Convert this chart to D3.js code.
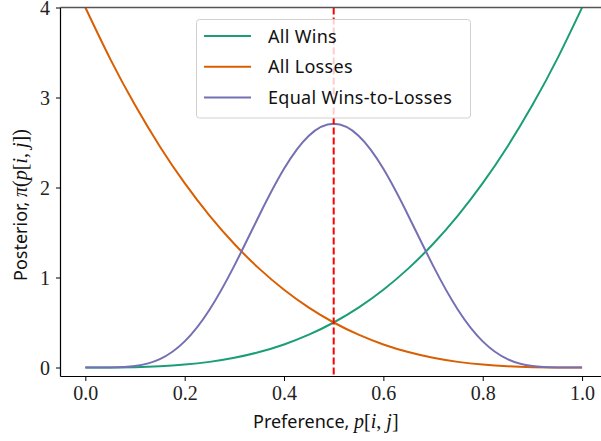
<!DOCTYPE html>
<html>
<head>
<meta charset="utf-8">
<script src="https://cdn.jsdelivr.net/npm/d3@7"></script>
<style>
  html, body { margin: 0; padding: 0; background: #fff; }
  svg { display: block; }
  .tick text { font-family: "Liberation Serif", "DejaVu Serif", serif; }
</style>
</head>
<body>
<svg id="chart" width="601" height="441"></svg>
<script>
// Preference grid p[i,j]
const prefs = [0, 0.05, 0.1, 0.15, 0.2, 0.25, 0.3, 0.35, 0.4, 0.45, 0.5,
               0.55, 0.6, 0.65, 0.7, 0.75, 0.8, 0.85, 0.9, 0.95, 1.0];

// Posterior densities for each scenario
const allWins = [0, 0.0005, 0.004, 0.0135, 0.032, 0.0625, 0.108, 0.1715, 0.256, 0.3645, 0.5,
                 0.6655, 0.864, 1.0985, 1.372, 1.6875, 2.048, 2.4565, 2.916, 3.4295, 4.0];
const allLosses = [4.0, 3.4295, 2.916, 2.4565, 2.048, 1.6875, 1.372, 1.0985, 0.864, 0.6655, 0.5,
                   0.3645, 0.256, 0.1715, 0.108, 0.0625, 0.032, 0.0135, 0.004, 0.0005, 0];
const equalWL = [0, 0.0007, 0.0164, 0.0934, 0.2907, 0.6424, 1.1321, 1.6893, 2.2072, 2.5744, 2.7070,
                 2.5744, 2.2072, 1.6893, 1.1321, 0.6424, 0.2907, 0.0934, 0.0164, 0.0007, 0];

const seriesNames = ["All Wins", "All Losses", "Equal Wins-to-Losses"];
const seriesColors = ["#1b9e77", "#d95f02", "#7570b3"];
const seriesValues = [allWins, allLosses, equalWL];

const xTicks = [0.0, 0.2, 0.4, 0.6, 0.8, 1.0];
const yTicks = [0, 1, 2, 3, 4];
const splitAt = 0.5;

const svg = d3.select("#chart");
const mLeft = 60.5, mTop = 7.5, mBottom = 376.5, mRight = 606.9;

const x = d3.scaleLinear().domain([-0.05, 1.05]).range([mLeft, mRight]);
const y = d3.scaleLinear().domain([-0.1, 4]).range([mBottom, mTop]);

svg.append("defs").append("clipPath").attr("id", "plot")
  .append("rect").attr("x", mLeft).attr("y", mTop - 1)
  .attr("width", mRight - mLeft).attr("height", mBottom - mTop + 1);

// Curves
const line = d3.line().x(d => x(d[0])).y(d => y(d[1])).curve(d3.curveNatural);
const plot = svg.append("g").attr("clip-path", "url(#plot)");
seriesValues.forEach((vals, k) => {
  plot.append("path")
    .datum(prefs.map((p, i) => [p, vals[i]]))
    .attr("fill", "none")
    .attr("stroke", seriesColors[k])
    .attr("stroke-width", 2)
    .attr("d", line);
});

// Vertical reference line at p = 0.5
plot.append("line")
  .attr("x1", x(splitAt)).attr("x2", x(splitAt))
  .attr("y1", mTop).attr("y2", mBottom)
  .attr("stroke", "#ff0000").attr("stroke-width", 2)
  .attr("stroke-dasharray", "7,3");

// Axes
const xAxis = svg.append("g").attr("transform", `translate(0,${mBottom})`)
  .call(d3.axisBottom(x).tickValues(xTicks).tickFormat(d3.format(".1f")).tickSize(4.5).tickPadding(5));
const yAxis = svg.append("g").attr("transform", `translate(${mLeft},0)`)
  .call(d3.axisLeft(y).tickValues(yTicks).tickFormat(d3.format("d")).tickSize(4.5).tickPadding(6));
[xAxis, yAxis].forEach(g => {
  g.select(".domain").attr("stroke", "#000").attr("stroke-width", 1.2);
  g.selectAll(".tick line").attr("stroke", "#000").attr("stroke-width", 1);
  g.selectAll(".tick text").attr("font-size", 20).attr("fill", "#222");
});
yAxis.selectAll(".tick text").attr("dy", "0.34em");
// x axis runs across the full width
xAxis.select(".domain").attr("d", `M${mLeft},0H601`);
yAxis.select(".domain").attr("d", `M0,${mTop}V${mBottom}`);

// Top frame line
svg.append("line").attr("x1", mLeft).attr("x2", 601).attr("y1", mTop).attr("y2", mTop)
  .attr("stroke", "#555").attr("stroke-width", 1.5);

// Axis titles
const sans = "'Noto Sans', 'DejaVu Sans', sans-serif";
const serif = "'Liberation Serif', 'DejaVu Serif', serif";
const xt = svg.append("text").attr("x", 253).attr("y", 428)
  .attr("text-anchor", "start").attr("font-size", 18).attr("fill", "#111");
xt.append("tspan").attr("font-family", sans).text("Preference, ");
xt.append("tspan").attr("font-family", serif).attr("font-style", "italic").attr("font-size", 20).text("p");
xt.append("tspan").attr("font-family", serif).attr("font-size", 20).text("[");
xt.append("tspan").attr("font-family", serif).attr("font-style", "italic").attr("font-size", 20).text("i");
xt.append("tspan").attr("font-family", serif).attr("font-size", 20).text(", ");
xt.append("tspan").attr("font-family", serif).attr("font-style", "italic").attr("font-size", 20).text("j");
xt.append("tspan").attr("font-family", serif).attr("font-size", 20).text("]");

const yt = svg.append("text").attr("transform", "translate(27,281) rotate(-90)")
  .attr("text-anchor", "start").attr("font-size", 18).attr("fill", "#111");
yt.append("tspan").attr("font-family", sans).text("Posterior, ");
yt.append("tspan").attr("font-family", serif).attr("font-style", "italic").attr("font-size", 20).text("π");
yt.append("tspan").attr("font-family", serif).attr("font-size", 20).text("(");
yt.append("tspan").attr("font-family", serif).attr("font-style", "italic").attr("font-size", 20).text("p");
yt.append("tspan").attr("font-family", serif).attr("font-size", 20).text("[");
yt.append("tspan").attr("font-family", serif).attr("font-style", "italic").attr("font-size", 20).text("i");
yt.append("tspan").attr("font-family", serif).attr("font-size", 20).text(", ");
yt.append("tspan").attr("font-family", serif).attr("font-style", "italic").attr("font-size", 20).text("j");
yt.append("tspan").attr("font-family", serif).attr("font-size", 20).text("])");

// Legend
const legend = svg.append("g");
legend.append("rect").attr("x", 196.5).attr("y", 19.5).attr("width", 274).attr("height", 98.5)
  .attr("rx", 3).attr("fill", "#fff").attr("fill-opacity", 0.8)
  .attr("stroke", "#d0d0d0").attr("stroke-width", 1);
seriesNames.forEach((name, i) => {
  const cy = 36 + i * 30.8;
  legend.append("line").attr("x1", 204).attr("x2", 251).attr("y1", cy).attr("y2", cy)
    .attr("stroke", seriesColors[i]).attr("stroke-width", 2);
  legend.append("text").attr("x", 268).attr("y", cy + 6.5)
    .attr("font-family", sans).attr("font-size", 18).attr("letter-spacing", 0.3)
    .attr("fill", "#111").text(name);
});
</script>
</body>
</html>
